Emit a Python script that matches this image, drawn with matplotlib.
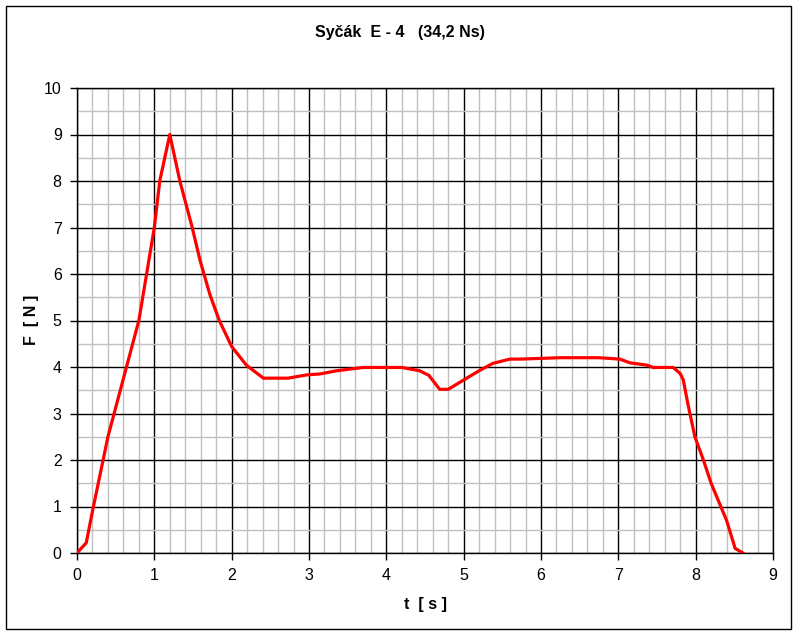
import matplotlib
matplotlib.use("Agg")
import matplotlib.pyplot as plt
from matplotlib.patches import Rectangle
from matplotlib.ticker import MultipleLocator

plt.rcParams['font.family'] = ['Liberation Sans', 'DejaVu Sans']

t = [0.0, 0.12, 0.2, 0.3, 0.4, 0.6, 0.8, 0.9, 1.0, 1.07, 1.2, 1.33, 1.49, 1.59, 1.72, 1.84,
     2.0, 2.19, 2.41, 2.73, 2.97, 3.14, 3.36, 3.7, 3.92, 4.2, 4.43, 4.55, 4.69, 4.8, 4.99,
     5.2, 5.38, 5.6, 5.73, 6.25, 6.74, 7.02, 7.15, 7.37, 7.45, 7.71, 7.8, 7.84, 7.9, 7.99,
     8.1, 8.2, 8.4, 8.51, 8.61]
F = [0.0, 0.22, 0.9, 1.7, 2.5, 3.75, 5.0, 6.0, 7.0, 8.0, 9.0, 8.0, 7.0, 6.3, 5.55, 5.0,
     4.44, 4.04, 3.76, 3.76, 3.83, 3.85, 3.92, 3.99, 3.99, 3.99, 3.92, 3.82, 3.52, 3.52, 3.71,
     3.92, 4.08, 4.17, 4.17, 4.2, 4.2, 4.17, 4.09, 4.04, 3.99, 3.99, 3.86, 3.72, 3.2, 2.5,
     2.0, 1.5, 0.7, 0.1, 0.0]

title = "Syčák  E - 4   (34,2 Ns)"
xlabel = "t  [ s ]"
ylabel = "F  [ N ]"

W, H = 797, 635
fig = plt.figure(figsize=(W / 100, H / 100), dpi=100)
ax = fig.add_axes([77 / W, 1 - 553 / H, (773 - 77) / W, (553 - 88) / H])

ax.set_xlim(0, 9)
ax.set_ylim(0, 10)
ax.xaxis.set_major_locator(MultipleLocator(1))
ax.yaxis.set_major_locator(MultipleLocator(1))
ax.xaxis.set_minor_locator(MultipleLocator(0.2))
ax.yaxis.set_minor_locator(MultipleLocator(0.5))
ax.grid(which='minor', color='#c0c0c0', linewidth=1.0, zorder=0)
ax.grid(which='major', color='black', linewidth=1.0, zorder=1)
ax.set_axisbelow(True)
ax.tick_params(which='major', direction='out', length=5, width=1, labelsize=11.5, pad=6)
ax.tick_params(which='minor', length=0)
for s in ax.spines.values():
    s.set_linewidth(1.0)
    s.set_color('black')

ax.plot(t, F, color='#ff0000', linewidth=2.3, zorder=3, solid_joinstyle='round')

fig.text(400 / W, 1 - 33 / H, title, ha='center', va='center', fontsize=11.5, fontweight='bold')
fig.text(425 / W, 1 - 604 / H, xlabel, ha='center', va='center', fontsize=11.5, fontweight='bold')
fig.text(32 / W, 1 - 320 / H, ylabel, ha='center', va='center', fontsize=11.5, fontweight='bold', rotation=90)

fig.patches.append(Rectangle((6 / W, 1 - 629 / H), (791 - 6) / W, (629 - 6) / H,
                             transform=fig.transFigure, fill=False, edgecolor='black', linewidth=1.0))

fig.savefig("out.png", dpi=100)
